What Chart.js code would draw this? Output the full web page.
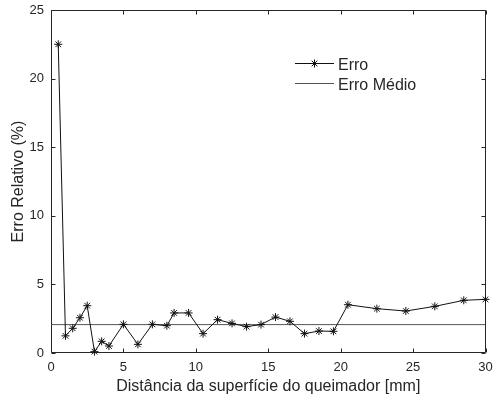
<!DOCTYPE html>
<html>
<head>
<meta charset="utf-8">
<script src="https://cdn.jsdelivr.net/npm/chart.js@4.4.0/dist/chart.umd.min.js"></script>
<style>
  body { margin: 0; background: #fff; }
  canvas { display: block; }
</style>
</head>
<body>
<canvas id="grafico" width="494" height="403"></canvas>
<script>
// Distância à superfície do queimador (mm) e erro relativo (%)
const distancias = [0.5, 1, 1.5, 2, 2.5, 3, 3.5, 4, 5, 6, 7, 8, 8.5, 9.5, 10.5, 11.5, 12.5, 13.5, 14.5,
  15.5, 16.5, 17.5, 18.5, 19.5, 20.5, 22.5, 24.5, 26.5, 28.5, 30];
const erros = [22.5, 1.25, 1.8, 2.57, 3.45, 0.1, 0.85, 0.51, 2.09, 0.63, 2.09, 1.99, 2.92, 2.92, 1.41, 2.43,
  2.16, 1.92, 2.07, 2.62, 2.31, 1.41, 1.6, 1.58, 3.52, 3.23, 3.06, 3.4, 3.84, 3.91];

// Erro médio, de ponta a ponta do eixo
const mediaX = [0, 30];
const mediaY = [2.07, 2.07];

const ticksX = [0, 5, 10, 15, 20, 25, 30];
const ticksY = [0, 5, 10, 15, 20, 25];

const COR_EIXO = "#262626";
const FONTE = "'Liberation Sans', Arial, sans-serif";

Chart.defaults.font.family = FONTE;
Chart.defaults.color = COR_EIXO;

// Caixa em volta do gráfico com marcas de escala para dentro (estilo MATLAB)
const moldura = {
  id: "moldura",
  beforeDatasetsDraw(chart) {
    const { ctx, chartArea: a, scales: { x, y } } = chart;
    const L = Math.round(a.left) + 0.5, R = Math.round(a.right) - 0.5;
    const T = Math.round(a.top) + 0.5, B = Math.round(a.bottom) - 0.5;
    const tam = 4;
    ctx.save();
    ctx.strokeStyle = COR_EIXO;
    ctx.lineWidth = 1;
    ctx.beginPath();
    ctx.rect(L, T, R - L, B - T);
    ticksX.forEach(v => {
      const px = Math.round(x.getPixelForValue(v)) + 0.5;
      ctx.moveTo(px, B); ctx.lineTo(px, B - tam);
      ctx.moveTo(px, T); ctx.lineTo(px, T + tam);
    });
    ticksY.forEach(v => {
      const py = Math.round(y.getPixelForValue(v)) + 0.5;
      ctx.moveTo(L, py); ctx.lineTo(L + tam, py);
      ctx.moveTo(R, py); ctx.lineTo(R - tam, py);
    });
    ctx.stroke();
    ctx.restore();
  }
};

// Legenda desenhada dentro da área do gráfico, sem caixa
const legenda = {
  id: "legenda",
  afterDraw(chart) {
    const ctx = chart.ctx;
    const itens = chart.data.datasets;
    const x0 = 295, x1 = 334, yBase = 63.5, passo = 20;
    ctx.save();
    ctx.font = "16px " + FONTE;
    ctx.textBaseline = "alphabetic";
    itens.forEach((ds, i) => {
      const yy = yBase + i * passo;
      ctx.strokeStyle = ds.borderColor;
      ctx.lineWidth = 1;
      ctx.beginPath();
      ctx.moveTo(x0, yy); ctx.lineTo(x1, yy);
      ctx.stroke();
      if (ds.pointRadius > 0) {
        Chart.helpers.drawPoint(ctx, {
          pointStyle: ds.pointStyle, radius: ds.pointRadius, rotation: 0, borderWidth: 1
        }, (x0 + x1) / 2, yy);
      }
      ctx.fillStyle = COR_EIXO;
      ctx.fillText(ds.label, 338, yy + 6.5);
    });
    ctx.restore();
  }
};

// Sem folga extra para os rótulos das pontas: a área fica presa ao padding do layout
function fixarPadding(s) {
  s.paddingLeft = 0;
  s.paddingRight = 0;
  s.paddingTop = 0;
  s.paddingBottom = 0;
}

new Chart(document.getElementById("grafico"), {
  type: "line",
  data: {
    datasets: [
      {
        label: "Erro",
        data: distancias.map((d, i) => ({ x: d, y: erros[i] })),
        borderColor: "#111",
        borderWidth: 1,
        pointStyle: "star",
        pointRadius: 4,
        pointBorderColor: "#111",
        pointBorderWidth: 1,
        pointBackgroundColor: "#111",
        tension: 0,
        clip: false,
      },
      {
        label: "Erro Médio",
        data: mediaX.map((d, i) => ({ x: d, y: mediaY[i] })),
        borderColor: "#555",
        borderWidth: 1,
        pointRadius: 0,
        tension: 0,
      },
    ],
  },
  options: {
    responsive: false,
    animation: false,
    events: [],
    layout: { padding: { top: 10, right: 8.5, left: 0, bottom: 0 } },
    plugins: {
      legend: { display: false },
      tooltip: { enabled: false },
    },
    scales: {
      x: {
        type: "linear",
        min: 0,
        max: 30,
        afterFit: s => { s.height = 50; fixarPadding(s); },
        grid: { display: false, drawTicks: false },
        border: { display: false },
        ticks: { stepSize: 5, font: { size: 13 }, padding: 7, maxRotation: 0 },
        title: {
          display: true,
          text: "Distância da superfície do queimador [mm]",
          font: { size: 16 },
          padding: { top: 0, bottom: 7 },
        },
      },
      y: {
        type: "linear",
        min: 0,
        max: 25,
        afterFit: s => { s.width = 51; fixarPadding(s); },
        grid: { display: false, drawTicks: false },
        border: { display: false },
        ticks: { stepSize: 5, font: { size: 13 }, padding: 7 },
        title: {
          display: true,
          text: "Erro Relativo (%)",
          font: { size: 16 },
          padding: { top: 9, bottom: 0 },
        },
      },
    },
  },
  plugins: [moldura, legenda],
});
</script>
</body>
</html>
